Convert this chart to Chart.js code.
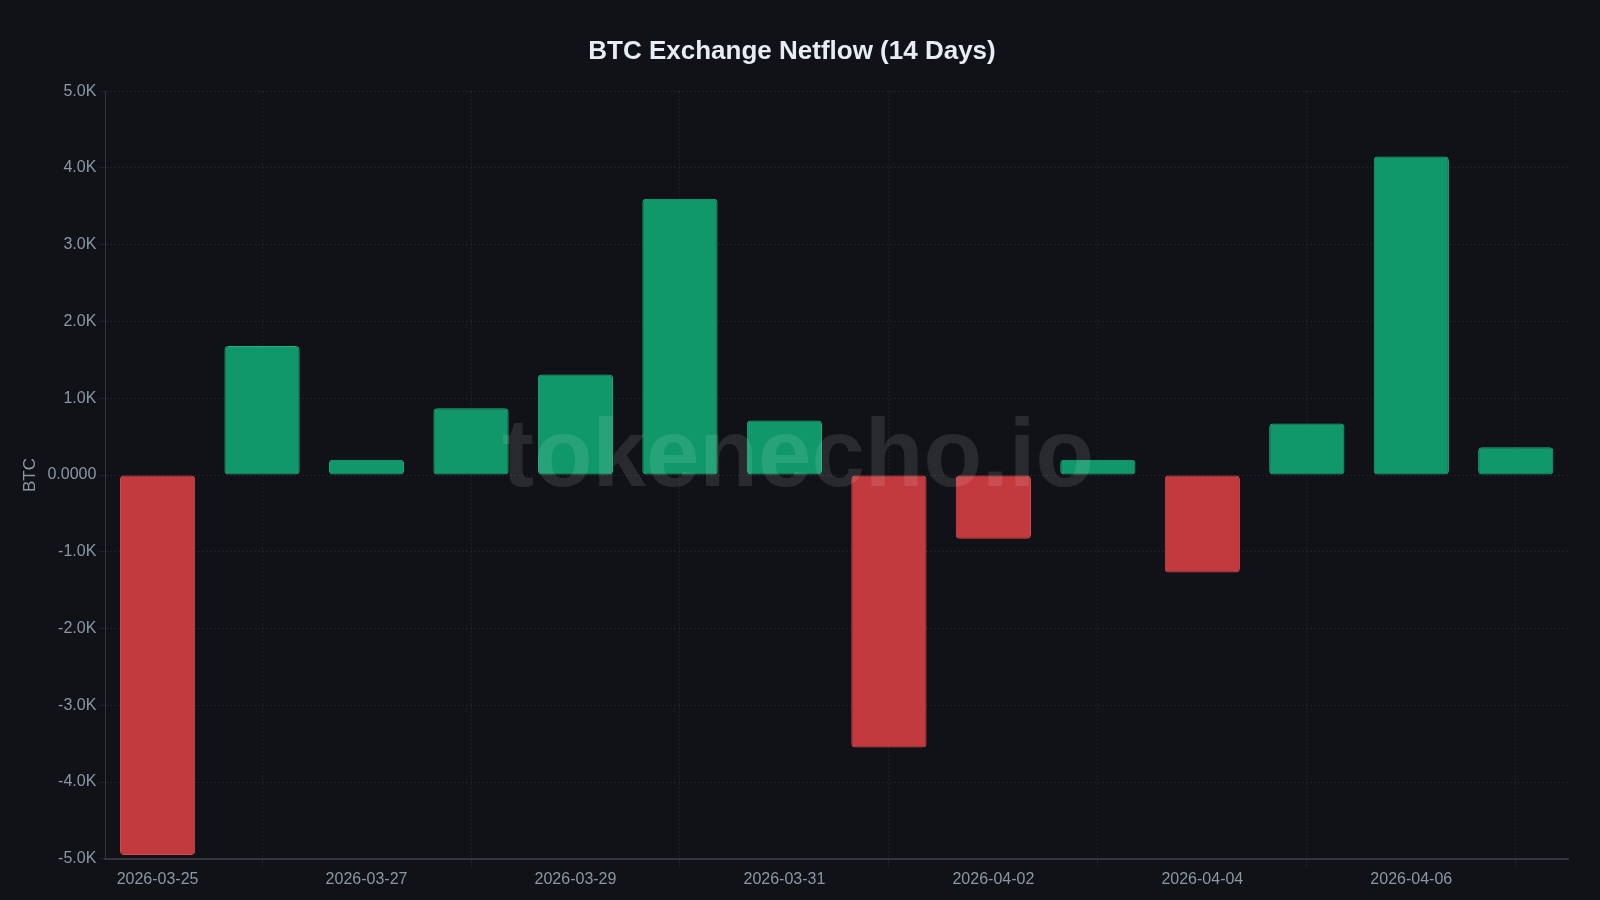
<!DOCTYPE html>
<html>
<head>
<meta charset="utf-8">
<script src="https://cdn.jsdelivr.net/npm/chart.js@4"></script>
<style>
  html, body { margin: 0; padding: 0; background: #111217; }
  #wrap { width: 1600px; height: 900px; }
</style>
</head>
<body>
<div id="wrap"><canvas id="netflow"></canvas></div>
<script>
const dates = ['2026-03-25', '2026-03-26', '2026-03-27', '2026-03-28', '2026-03-29', '2026-03-30', '2026-03-31',
  '2026-04-01', '2026-04-02', '2026-04-03', '2026-04-04', '2026-04-05', '2026-04-06', '2026-04-07'];
const netflow = [-4950, 1680, 200, 870, 1310, 3600, 710, -3550, -830, 200, -1270, 670, 4150, 360];
const yTicks = [-5000, 5000, 1000];

const FONT = '"Liberation Sans", Arial, sans-serif';

// watermark drawn over the bars
const watermark = {
  id: 'watermark',
  afterDatasetsDraw(chart) {
    const ctx = chart.ctx;
    ctx.save();
    ctx.font = 'bold 96px ' + FONT;
    ctx.fillStyle = 'rgba(255,255,255,0.1)';
    ctx.textAlign = 'center';
    ctx.textBaseline = 'middle';
    ctx.fillText('tokenecho.io', 798, 460);
    ctx.restore();
  }
};

new Chart(document.getElementById('netflow'), {
  type: 'bar',
  data: {
    labels: dates,
    datasets: [{
      label: 'Netflow',
      data: netflow,
      backgroundColor: netflow.map(v => v >= 0 ? '#10986a' : '#c33a3e'),
      borderColor: netflow.map(v => v >= 0 ? '#24b07f' : '#dc4a4e'),
      borderWidth: 1,
      borderRadius: 4,
      borderSkipped: false
    }]
  },
  options: {
    responsive: true,
    maintainAspectRatio: false,
    animation: false,
    layout: { padding: { left: 16, right: 32, top: 36, bottom: 8 } },
    plugins: {
      legend: { display: false },
      tooltip: { enabled: false },
      title: {
        display: true,
        text: 'BTC Exchange Netflow (14 Days)',
        color: '#e6edf5',
        font: { family: FONT, size: 26, weight: 'bold' },
        padding: { top: 0, bottom: 24 }
      }
    },
    scales: {
      x: {
        ticks: {
          color: '#8a98a5',
          font: { family: FONT, size: 16 },
          maxRotation: 0,
          autoSkip: true,
          autoSkipPadding: 50
        },
        grid: { color: 'rgba(255,255,255,0.06)', tickLength: 8 },
        border: { color: '#34363d', width: 2, dash: [2, 2] }
      },
      y: {
        min: yTicks[0],
        max: yTicks[1],
        ticks: {
          stepSize: yTicks[2],
          color: '#8a98a5',
          font: { family: FONT, size: 16 },
          callback: v => v === 0 ? '0.0000' : (v / 1000).toFixed(1) + 'K'
        },
        title: {
          display: true,
          text: 'BTC',
          color: '#8a98a5',
          font: { family: FONT, size: 17 }
        },
        grid: { color: 'rgba(255,255,255,0.07)', tickLength: 6 },
        border: { color: '#34363d', width: 1, dash: [2, 2] }
      }
    }
  },
  plugins: [watermark]
});
</script>
</body>
</html>
